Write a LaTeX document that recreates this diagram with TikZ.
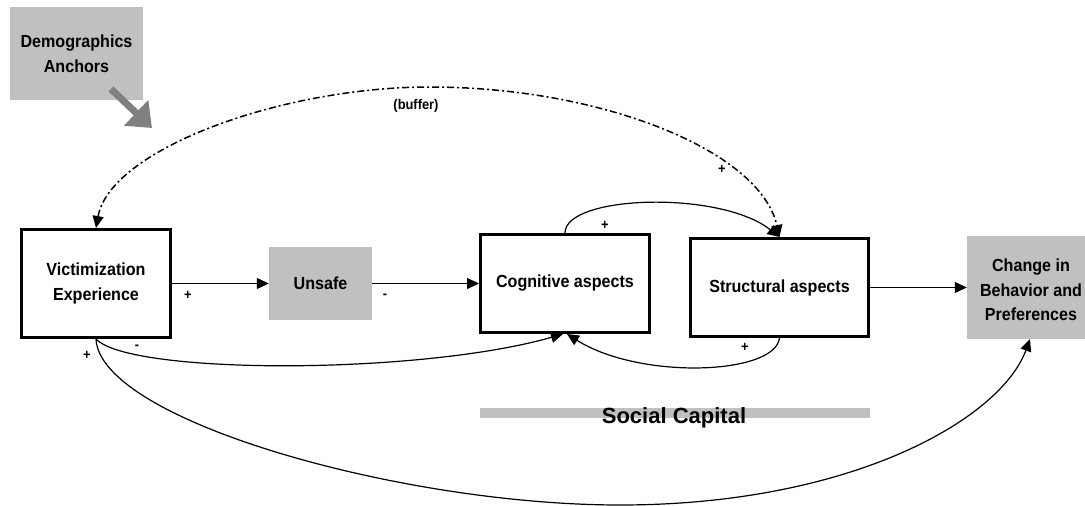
\documentclass[tikz,border=0pt]{standalone}
\usepackage{fontspec}
\setmainfont{Liberation Sans}
\newfontfamily\narrowfont{Liberation Sans}[FakeStretch=0.92]
\usetikzlibrary{arrows.meta}
\definecolor{boxgray}{HTML}{C0C0C0}
\definecolor{arrgray}{HTML}{808080}
\tikzset{
  bigtxt/.style={font=\narrowfont\bfseries\fontsize{17.5}{24.5}\selectfont, align=center},
  smalltxt/.style={font=\narrowfont\bfseries\fontsize{14}{16}\selectfont, inner sep=0pt},
  wbox/.style={draw, line width=3pt, fill=white, bigtxt},
  gbox/.style={fill=boxgray, bigtxt},
  arr/.style={line width=1.2pt, -{Triangle[length=12pt,width=11pt]}},
  dd/.style={line width=1.5pt, dash pattern=on 7pt off 3pt on 2pt off 3pt,
             {Triangle[length=12pt,width=11pt]}-{Triangle[length=12pt,width=11pt]}},
  garr/.style={draw=arrgray, line width=7pt, -{Triangle[length=22pt,width=34pt]}, arrgray}
}
\begin{document}
\begin{tikzpicture}[x=1pt,y=-1pt]
\useasboundingbox (0,0) rectangle (1085,506);
% boxes
\node[gbox, minimum width=133, minimum height=93] (dem) at (76.5,53.5) {Demographics\\Anchors};
\node[wbox, minimum width=149, minimum height=108] (vic) at (96,283.5) {Victimization\\Experience};
\node[gbox, minimum width=103, minimum height=73] (uns) at (320.5,283.5) {Unsafe};
\node[wbox, minimum width=169, minimum height=98] (cog) at (565,283.5) {Cognitive aspects};
\node[wbox, minimum width=178, minimum height=98] (str) at (779.5,287.5) {Structural aspects};
\node[gbox, minimum width=118, minimum height=103] (chg) at (1026,287.5) {};
\node[bigtxt] (chgtxt) at (1031,290) {Change in\\Behavior and\\Preferences};
% social capital bar
\fill[boxgray] (480,408) rectangle (870,418);
\node[font=\bfseries\fontsize{22}{26}\selectfont, anchor=base, inner sep=0pt] (sc) at (674,423) {Social Capital};
% gray arrow
\coordinate (ds) at (111,89);
\coordinate (de) at (152,128);
\draw[garr] (ds) -- (de);
% straight arrows
\draw[arr] (vic.east) -- (uns.west);
\draw[arr] (uns.east) -- (cog.west);
\draw[arr] (str.east) -- (chg.west);
% curved arrows
\draw[arr] (cog.north) .. controls (565,195) and (720,190) .. (str.north);
\draw[arr] (str.south) .. controls (775,375) and (640,380) .. ([xshift=2pt]cog.south);
\draw[arr] (vic.south) .. controls (130,375) and (420,375) .. ([xshift=-2pt]cog.south);
\draw[arr] (vic.south) .. controls (100,420) and (400,505) .. (620,505)
   .. controls (850,505) and (1000,420) .. ([xshift=4pt]chg.south);
\draw[dd] (vic.north) .. controls (110,150) and (280,87) .. (430,87)
   .. controls (600,87) and (760,150) .. (str.north);
% labels
\node[smalltxt] (l1) at (188,295) {+};
\node[smalltxt] (l2) at (385,296) {-};
\node[smalltxt] (l3) at (137,347) {-};
\node[smalltxt] (l4) at (87,355) {+};
\node[smalltxt] (l5) at (605,225) {+};
\node[smalltxt] (l6) at (745,347) {+};
\node[smalltxt] (l7) at (722,169) {+};
\node[smalltxt] (buf) at (416,106) {(buffer)};
\end{tikzpicture}
\end{document}
